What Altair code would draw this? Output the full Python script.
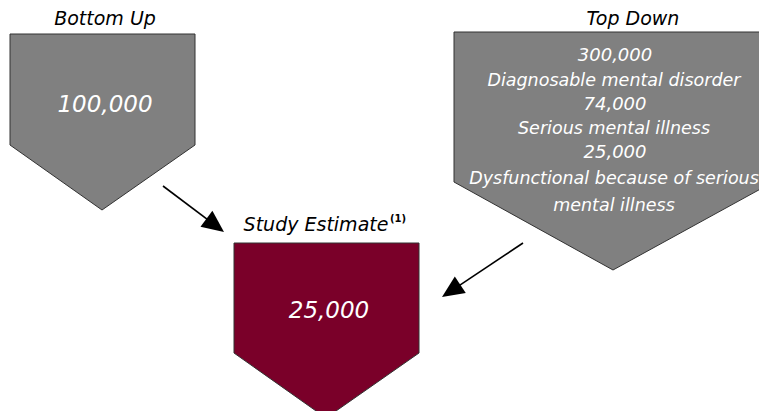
import math
import altair as alt
import pandas as pd

# ---- shapes (pentagon "down arrows"), image pixel coordinates ----
shape_names = ["Bottom Up", "Top Down", "Study Estimate"]
shape_left = [10, 454, 234]
shape_right = [195, 766, 419]
shape_top = [34, 32, 243]
shape_shoulder_left = [145, 182, 353]
shape_shoulder_right = [145, 186, 353]
shape_tip_x = [102, 613, 326]
shape_tip_y = [210, 270, 418]
shape_fill = ["#808080", "#808080", "#7A0029"]

# ---- arrows ----
arrow_x0 = [163, 523]
arrow_y0 = [186, 243]
arrow_x1 = [224, 442]
arrow_y1 = [232, 297]

# ---- text ----
text_labels = [
    "Bottom Up", "Top Down", "Study Estimate",
    "100,000", "25,000",
    "300,000", "Diagnosable mental disorder", "74,000",
    "Serious mental illness", "25,000",
    "Dysfunctional because of serious", "mental illness",
]
text_x = [105, 633, 316, 105, 329, 615, 614, 615, 614, 615, 614, 614]
text_y = [25, 25, 231, 112, 318, 61, 86, 110, 134, 158, 184, 211]
text_size = [19, 19, 19, 23, 23, 18, 17.5, 18, 17.5, 18, 17.5, 17.5]
text_color = ["black"] * 3 + ["white"] * 9

sup_label = ["(1)"]
sup_x = [390]
sup_y = [222]

# ---- build tables ----
rows = []
for i, n in enumerate(shape_names):
    rows.append(dict(shape=n, x=shape_left[i], y=shape_top[i], y2=shape_shoulder_left[i], fill=shape_fill[i]))
    rows.append(dict(shape=n, x=shape_tip_x[i], y=shape_top[i], y2=shape_tip_y[i], fill=shape_fill[i]))
    rows.append(dict(shape=n, x=shape_right[i], y=shape_top[i], y2=shape_shoulder_right[i], fill=shape_fill[i]))
shapes_df = pd.DataFrame(rows)

line_rows, head_rows = [], []
for i in range(len(arrow_x0)):
    dx = arrow_x1[i] - arrow_x0[i]
    dy = arrow_y1[i] - arrow_y0[i]
    L = math.hypot(dx, dy)
    ux, uy = dx / L, dy / L
    line_rows.append(dict(x=arrow_x0[i], y=arrow_y0[i], x2=arrow_x1[i] - 8 * ux, y2=arrow_y1[i] - 8 * uy))
    ang = math.degrees(math.atan2(dx, -dy)) % 360
    head_rows.append(dict(x=arrow_x1[i], y=arrow_y1[i], angle=ang))
lines_df = pd.DataFrame(line_rows)
heads_df = pd.DataFrame(head_rows)

text_df = pd.DataFrame(dict(label=text_labels, x=text_x, y=text_y, size=text_size, color=text_color))
sup_df = pd.DataFrame(dict(label=sup_label, x=sup_x, y=sup_y))

W, H = 751, 403
xs = alt.Scale(domain=[8, 8 + W], nice=False, zero=False)
ys = alt.Scale(domain=[8, 8 + H], nice=False, zero=False, reverse=True)

def X(f="x"):
    return alt.X(f + ":Q", scale=xs, axis=None)

def Y(f="y"):
    return alt.Y(f + ":Q", scale=ys, axis=None)

shapes = alt.Chart(shapes_df).mark_area(stroke="#333333", strokeWidth=1, opacity=1).encode(
    x=X(), y=Y(), y2="y2:Q",
    fill=alt.Fill("fill:N", scale=None),
    detail="shape:N",
)

lines = alt.Chart(lines_df).mark_rule(color="black", strokeWidth=1.6).encode(
    x=X(), y=Y(), x2="x2:Q", y2="y2:Q"
)

heads = alt.Chart(heads_df).mark_point(
    shape="M0,0L0.9,2L-0.9,2Z", filled=True, color="black", opacity=1, size=484, strokeWidth=0
).encode(x=X(), y=Y(), angle=alt.Angle("angle:Q", scale=None))

texts = alt.Chart(text_df).mark_text(
    font="DejaVu Sans", fontStyle="italic", align="center", baseline="alphabetic"
).encode(
    x=X(), y=Y(), text="label:N",
    size=alt.Size("size:Q", scale=None),
    color=alt.Color("color:N", scale=None),
)

sup = alt.Chart(sup_df).mark_text(
    font="DejaVu Sans", fontWeight="bold", fontSize=10, align="left", baseline="alphabetic", color="black"
).encode(x=X(), y=Y(), text="label:N")

chart = alt.layer(shapes, lines, heads, texts, sup).properties(
    width=W, height=H, autosize=alt.AutoSizeParams(type="none"), padding=0
).configure_view(stroke=None)

chart.save("out.html", embed_options={"renderer": "svg", "actions": False})
